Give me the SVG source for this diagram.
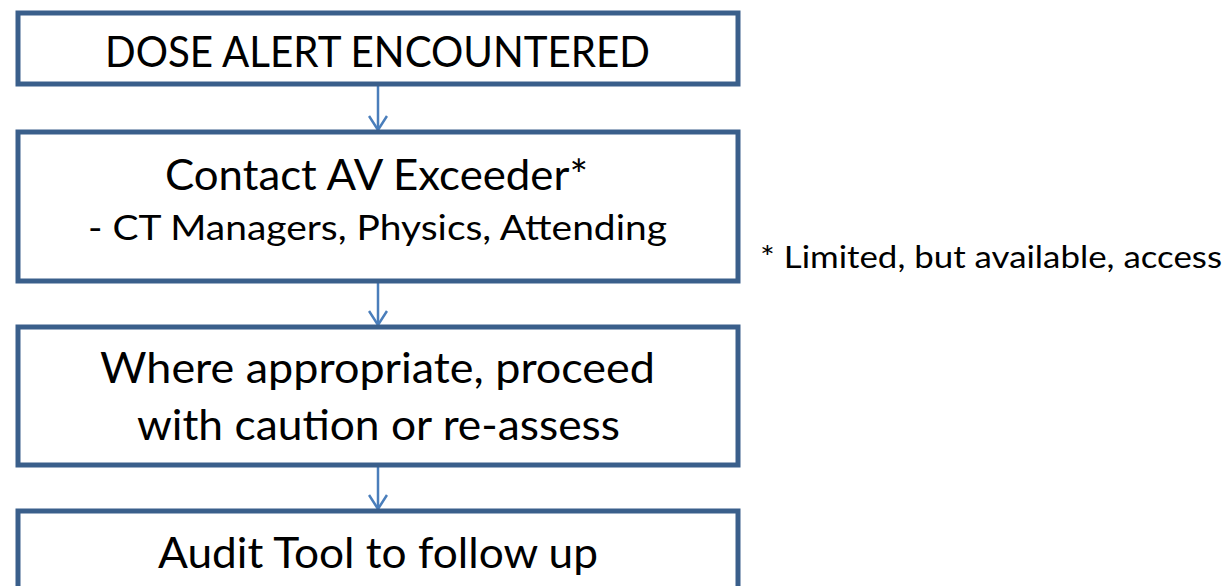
<svg xmlns="http://www.w3.org/2000/svg" width="1232" height="586" viewBox="0 0 1232 586">
<defs>
<style>
.box{fill:#fff;stroke:#3A5F8B;stroke-width:5}
.t{font-family:Lato,"Liberation Sans",sans-serif;fill:#000;text-anchor:middle}
.big{font-size:43px}
.small{font-size:35px}
.conn{stroke:#4A7EBB;stroke-width:2.5;fill:none}
</style>
<marker id="ah" viewBox="0 0 16 20" refX="15" refY="10" markerWidth="16" markerHeight="20" markerUnits="userSpaceOnUse" orient="auto">
<path d="M1,1 L15,10 L1,19" fill="none" stroke="#4A7EBB" stroke-width="2.5"/>
</marker>
</defs>
<rect width="1232" height="586" fill="#fff"/>
<g id="connectors">
<line class="conn" x1="378" y1="86" x2="378" y2="130" marker-end="url(#ah)"/>
<line class="conn" x1="378" y1="283" x2="378" y2="325" marker-end="url(#ah)"/>
<line class="conn" x1="378" y1="467" x2="378" y2="509" marker-end="url(#ah)"/>
</g>
<g id="node1">
<rect class="box" x="18" y="13" width="720" height="71"/>
<text class="t big" x="377.5" y="67" textLength="545" lengthAdjust="spacingAndGlyphs">DOSE ALERT ENCOUNTERED</text>
</g>
<g id="node2">
<rect class="box" x="18" y="132" width="720" height="149"/>
<text class="t big" x="376.5" y="190" textLength="423" lengthAdjust="spacingAndGlyphs">Contact AV Exceeder*</text>
<text class="t small" x="377.5" y="240" textLength="579" lengthAdjust="spacingAndGlyphs">- CT Managers, Physics, Attending</text>
</g>
<g id="node3">
<rect class="box" x="18" y="327" width="720" height="138"/>
<text class="t big" x="377.5" y="383" textLength="555" lengthAdjust="spacingAndGlyphs">Where appropriate, proceed</text>
<text class="t big" x="378.5" y="440" textLength="483" lengthAdjust="spacingAndGlyphs">with caution or re-assess</text>
</g>
<g id="node4">
<rect class="box" x="18" y="511" width="720" height="100"/>
<text class="t big" x="378" y="568" textLength="440" lengthAdjust="spacingAndGlyphs">Audit Tool to follow up</text>
</g>
<g id="note">
<text class="t" style="font-size:30px;text-anchor:start" x="760" y="268" textLength="462" lengthAdjust="spacingAndGlyphs">* Limited, but available, access</text>
</g>
</svg>
